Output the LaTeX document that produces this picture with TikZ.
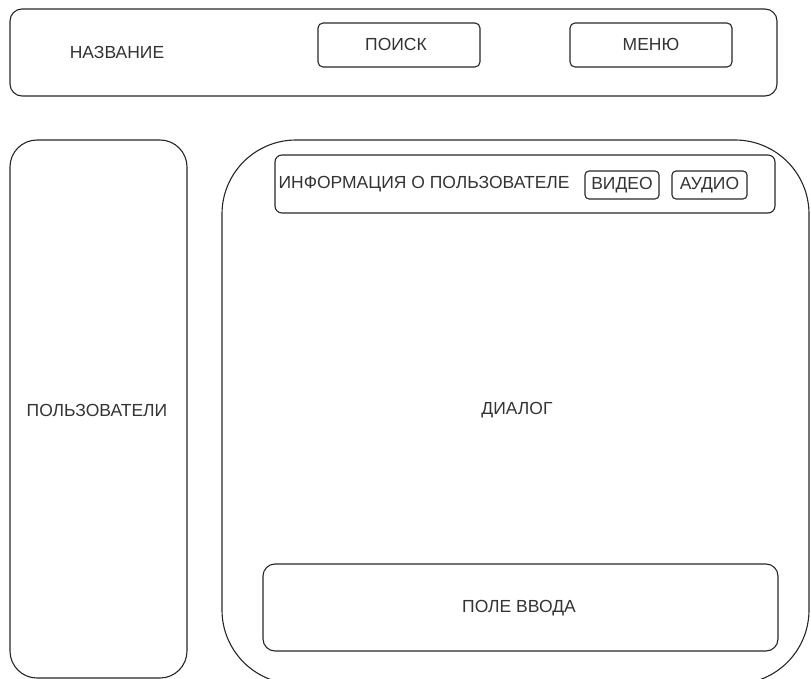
\documentclass[tikz,border=0pt]{standalone}
\usepackage{fontspec}
\setmainfont{Liberation Sans}
\usetikzlibrary{positioning}
\tikzset{every picture/.style={line width=1.1pt}}
\tikzstyle{panel}=[draw=black!85,rounded corners=12pt,inner sep=0pt]
\tikzstyle{btn}=[draw=black!85,rounded corners=5pt,inner sep=0pt]
\tikzstyle{lbl}=[text=black!80,inner sep=0pt,font=\fontsize{17.5}{20}\selectfont]

\begin{document}
\begin{tikzpicture}[x=1pt,y=-1pt]
\useasboundingbox (0,0) rectangle (811,679);
% top bar
\node[panel,minimum width=767pt,minimum height=87pt] (top) at (393.5,52.5) {};
\node[lbl] (title) at (117,52) {НАЗВАНИЕ};
\node[btn,minimum width=162pt,minimum height=44pt] (search) at (399,45) {};
\node[lbl] at (396,44) {ПОИСК};
\node[btn,minimum width=162pt,minimum height=44pt] (menu) at (651,45) {};
\node[lbl] at (651,44) {МЕНЮ};
% users column
\node[panel,rounded corners=27pt,minimum width=177pt,minimum height=538pt] (users) at (98.5,409) {};
\node[lbl] (userslbl) at (97,410) {ПОЛЬЗОВАТЕЛИ};
% dialog
\node[panel,rounded corners=74pt,minimum width=587pt,minimum height=544pt] (dialog) at (515.5,412) {};
\node[lbl] (dialoglbl) at (517,410) {ДИАЛОГ};
\node[panel,rounded corners=7pt,minimum width=500pt,minimum height=58pt] (info) at (525,184) {};
\node[lbl,anchor=west] (infolbl) at (278,184) {ИНФОРМАЦИЯ О ПОЛЬЗОВАТЕЛЕ};
\node[btn,rounded corners=4pt,minimum width=74pt,minimum height=28pt] (video) at (622,185) {};
\node[lbl] at (622,185) {ВИДЕО};
\node[btn,rounded corners=4pt,minimum width=75pt,minimum height=28pt] (audio) at (709.5,185) {};
\node[lbl] at (709.5,185) {АУДИО};
\node[panel,minimum width=515pt,minimum height=87pt] (input) at (520.5,607.5) {};
\node[lbl] (inputlbl) at (519,608) {ПОЛЕ ВВОДА};
\end{tikzpicture}
\end{document}
